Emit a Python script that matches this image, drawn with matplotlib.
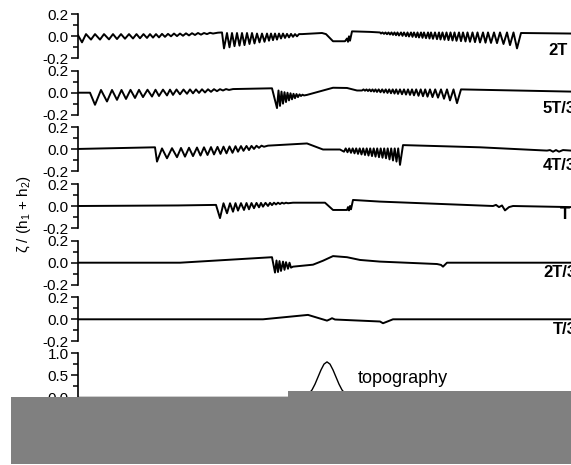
import matplotlib
matplotlib.use('Agg')
import matplotlib.pyplot as plt
from matplotlib.patches import Rectangle
from matplotlib.ticker import FixedLocator, FormatStrFormatter

plt.rcParams['font.family'] = ['Liberation Sans', 'DejaVu Sans']
plt.rcParams['mathtext.fontset'] = 'custom'
plt.rcParams['mathtext.rm'] = 'Liberation Sans'
plt.rcParams['mathtext.default'] = 'regular'
plt.rcParams['axes.unicode_minus'] = False

# interface displacement, distance along the channel (arbitrary units)
trace_2t = [
    (0, 0.01), (4, -0.055), (8, 0.02), (13, -0.03), (17, 0.02), (22, -0.03), (26, 0.02),
    (31, -0.028), (35, 0.02), (39, -0.025), (43, 0.02), (47, -0.022), (51, 0.02), (55, -0.02),
    (58.5, 0.02), (62, -0.018), (65.5, 0.02), (69, -0.015), (72, 0.02), (75, -0.012), (78, 0.02),
    (81, -0.01), (84, 0.022), (87, -0.005), (90, 0.022), (93, 0.0), (96, 0.025), (99, 0.002),
    (102, 0.025), (105, 0.005), (108, 0.027), (111, 0.008), (114, 0.028), (117, 0.012),
    (120, 0.03), (123, 0.015), (126, 0.03), (129, 0.02), (132, 0.032), (135, 0.025),
    (140, 0.033), (144, 0.035),
    (146, -0.11), (149, 0.03), (151.5, -0.1), (154, 0.03), (156.5, -0.09), (159, 0.03),
    (161.5, -0.085), (164, 0.03), (166.5, -0.08), (169, 0.03), (171.5, -0.07), (174, 0.03),
    (176.5, -0.065), (179, 0.025), (181.5, -0.055), (184, 0.025), (186.5, -0.05), (189, 0.025),
    (191, -0.04), (193, 0.025), (195, -0.035), (197, 0.025), (199, -0.03), (201, 0.025),
    (203, -0.02), (205, 0.025), (207, -0.015), (209, 0.022), (211, -0.01), (213, 0.022),
    (215, -0.005), (217, 0.02), (219, 0.0), (221, 0.02), (224, 0.02),
    (244, 0.03), (248, 0.02), (255, -0.045), (267, -0.045), (269, -0.02), (270, -0.05),
    (271, 0.0), (272, -0.04), (274, 0.045), (292, 0.04), (302, 0.035),
    (303, 0.025), (304.5, 0.035), (306, 0.022), (307.5, 0.035), (309, 0.019), (310.5, 0.035),
    (312, 0.016), (313.5, 0.035), (315, 0.013), (316.5, 0.035), (318, 0.01), (319.5, 0.035),
    (321, 0.007), (323, 0.035), (324.5, 0.004), (326, 0.035), (328, 0.001), (329.5, 0.035),
    (331, -0.002), (333, 0.035), (334.5, -0.005), (336, 0.035), (338, -0.008), (339.5, 0.035),
    (341, -0.011), (343, 0.035), (344.5, -0.014), (346, 0.035), (348, -0.017), (350, 0.035),
    (351.5, -0.02), (353, 0.035), (355, -0.023), (357, 0.035), (359, -0.026), (361, 0.035),
    (362.5, -0.029), (364.5, 0.035), (366.5, -0.032), (368.5, 0.035), (370.5, -0.035),
    (372.5, 0.035), (374.5, -0.038), (376.5, 0.035), (378.5, -0.041), (381, 0.035),
    (383, -0.044), (385, 0.035), (387.5, -0.047), (389.5, 0.035), (392, -0.05), (394.5, 0.035),
    (397, -0.053), (399.5, 0.035), (402, -0.056), (405, 0.035), (407.5, -0.058), (410, 0.035),
    (413, -0.06), (416, 0.035), (419, -0.062), (422, 0.035), (425.5, -0.07), (429, 0.035),
    (432, -0.08), (435.5, 0.035), (439, -0.11), (443, 0.03), (493, 0.025), (522, 0.025),
]

trace_5t3 = [
    (0, 0.0), (12, 0.0),
    (17, -0.11), (23, 0.025), (29, -0.08), (34, 0.025), (39, -0.065), (43.5, 0.025),
    (48, -0.057), (52.5, 0.026), (57, -0.048), (61, 0.026), (65, -0.04), (69.5, 0.027),
    (74, -0.035), (77.5, 0.027), (81, -0.03), (85, 0.028), (89, -0.025), (92, 0.028),
    (95, -0.02), (98.5, 0.029), (102, -0.015), (105.5, 0.029), (109, -0.01), (112, 0.03),
    (115, -0.006), (118, 0.03), (121, -0.002), (124, 0.031), (127, 0.002), (130, 0.031),
    (133, 0.008), (136, 0.032), (139, 0.014), (142, 0.032), (145, 0.02), (148, 0.033),
    (151, 0.025), (155, 0.033), (194, 0.04),
    (199, -0.14), (200.5, 0.02), (202, -0.12), (203.5, 0.01), (205, -0.1), (206.5, 0.005),
    (208, -0.085), (209.5, 0.0), (211, -0.07), (212.5, -0.005), (214, -0.06), (215.5, -0.01),
    (217, -0.05), (218.5, -0.012), (220, -0.04), (221.5, -0.015), (223, -0.03), (224.5, -0.018),
    (226, -0.025), (229, -0.02),
    (255, 0.045), (269, 0.043), (279, 0.02), (282, 0.02),
    (284, 0.02), (285.5, 0.03), (287, 0.018), (288.5, 0.03), (290, 0.015), (291.5, 0.03),
    (293, 0.012), (294.5, 0.03), (296, 0.01), (297.5, 0.03), (299, 0.007), (300.7, 0.03),
    (302.5, 0.004), (304.2, 0.03), (306, 0.001), (307.7, 0.03), (309.5, -0.002), (311.2, 0.03),
    (313, -0.005), (314.7, 0.03), (316.5, -0.008), (318.2, 0.03), (320, -0.011), (322, 0.03),
    (324, -0.014), (326, 0.03), (328, -0.017), (330, 0.03), (332, -0.02), (334, 0.03),
    (336, -0.024), (338.2, 0.03), (340.5, -0.028), (342.7, 0.03), (345, -0.032), (347.2, 0.03),
    (349.5, -0.036), (352, 0.03), (354.5, -0.04), (357.2, 0.03), (360, -0.045), (363, 0.03),
    (366, -0.055), (369, 0.03), (372, -0.07), (375.5, 0.03), (379, -0.095), (383, 0.03),
    (493, 0.01), (522, 0.008),
]

trace_4t3 = [
    (0, 0.005), (77, 0.02),
    (79, -0.11), (84, 0.01), (89, -0.08), (94, 0.012), (99, -0.07), (103, 0.014), (107, -0.065),
    (111, 0.016), (115, -0.06), (119, 0.018), (122.5, -0.055), (126, 0.02), (129.5, -0.05),
    (133, 0.022), (136, -0.045), (139.5, 0.024), (142.5, -0.04), (145.5, 0.026), (148.5, -0.035),
    (151.5, 0.028), (154.5, -0.03), (157.5, 0.03), (160, -0.02), (163, 0.031), (165.5, -0.012),
    (168.5, 0.032), (171, -0.005), (173.5, 0.033), (176, 0.005), (178.5, 0.034), (181, 0.015),
    (183.5, 0.035), (186, 0.025), (190, 0.035),
    (229, 0.055), (245, 0.0), (262, 0.0),
    (266, -0.02), (267.7, 0.01), (269.5, -0.025), (271.2, 0.01), (273, -0.03), (274.7, 0.01),
    (276.5, -0.035), (278.2, 0.01), (280, -0.04), (281.7, 0.01), (283.5, -0.045), (285.2, 0.01),
    (287, -0.05), (288.7, 0.01), (290.5, -0.055), (292.2, 0.01), (294, -0.06), (295.7, 0.01),
    (297.5, -0.065), (299.2, 0.01), (301, -0.07), (302.7, 0.01), (304.5, -0.075), (306.2, 0.01),
    (308, -0.08), (309.7, 0.01), (311.5, -0.09), (313.2, 0.01), (315, -0.1), (316.7, 0.01),
    (318.5, -0.11), (320.2, 0.01), (322, -0.14), (325, 0.04), (402, 0.02), (469, -0.01),
    (472, -0.005), (475, -0.02), (478, -0.005), (481, -0.02), (485, -0.005), (493, -0.01),
    (522, -0.01),
]

trace_t = [
    (0, 0.0), (100, 0.005), (138, 0.01),
    (142, -0.11), (145.5, 0.025), (149, -0.066), (152, 0.025), (155, -0.052), (157.5, 0.026),
    (160, -0.042), (163, 0.026), (166, -0.036), (168.5, 0.027), (171, -0.03), (173.5, 0.027),
    (176, -0.02), (178.5, 0.028), (181, -0.012), (183, 0.028), (185, -0.006), (187.5, 0.029),
    (190, 0.0), (192, 0.029), (194, 0.008), (196, 0.03), (198, 0.014), (200, 0.03),
    (202, 0.018), (204, 0.03), (206, 0.022), (208, 0.03), (210, 0.025), (215, 0.03),
    (247, 0.03), (255, -0.036), (269, -0.036), (270, -0.01), (271, -0.04), (272, 0.0),
    (273, -0.03), (275, 0.055), (302, 0.04), (415, 0.0), (418, 0.01), (421, -0.01),
    (424, 0.005), (427, -0.04), (431, -0.01), (435, 0.0), (493, -0.01), (522, -0.01),
]

trace_2t3 = [
    (0, 0.0), (102, 0.0), (194, 0.05),
    (197, -0.09), (198.5, 0.02), (200, -0.085), (201.5, 0.015), (203, -0.075), (205, 0.01),
    (206.5, -0.065), (208, 0.005), (210, -0.055), (211.5, 0.0), (213, -0.045), (215, -0.036),
    (235, -0.018), (245, 0.018), (255, 0.06), (269, 0.05), (282, 0.025), (302, 0.01),
    (359, -0.012), (363, -0.02), (365, -0.036), (369, 0.0), (522, 0.0),
]

trace_t3 = [
    (0, 0.0), (185, 0.0), (230, 0.04), (249, -0.012), (252, 0.0), (254, 0.01), (257, -0.002),
    (302, -0.02), (305, -0.036), (315, 0.0), (522, 0.0),
]

topography = [
    (0, 0.0), (219, 0.0), (227, 0.03), (231, 0.09), (234, 0.17), (237, 0.3), (240, 0.46),
    (243, 0.62), (246, 0.75), (249, 0.8), (252, 0.75), (255, 0.62), (258, 0.46), (261, 0.3),
    (264, 0.17), (267, 0.09), (271, 0.03), (279, 0.0), (522, 0.0),
]

traces = [trace_2t, trace_5t3, trace_4t3, trace_t, trace_2t3, trace_t3]
time_labels = ['2T', '5T/3', '4T/3', 'T', '2T/3', 'T/3']
label_pos = [(470, -0.125), (465, -0.14), (465, -0.15), (482, -0.08), (465, -0.085), (475, -0.097)]

W, H = 571, 465
fig = plt.figure(figsize=(W / 100, H / 100), dpi=100)

# zero level of each panel in pixels from the top
zero_px = [36.3, 92.7, 149.5, 206.0, 262.7, 319.3]
left = 78 / W
width = 520 / W


def style_axis(ax, major, minor, fmt):
    for side in ['top', 'right', 'bottom']:
        ax.spines[side].set_visible(False)
    ax.spines['left'].set_linewidth(1.2)
    ax.set_xticks([])
    ax.yaxis.set_major_locator(FixedLocator(major))
    ax.yaxis.set_minor_locator(FixedLocator(minor))
    ax.yaxis.set_major_formatter(FormatStrFormatter(fmt))
    ax.tick_params(axis='y', which='major', length=5, width=1.1, pad=1.5, labelsize=11, color='black')
    ax.tick_params(axis='y', which='minor', length=3.5, width=1.1)
    ax.patch.set_alpha(0)


for i, tr in enumerate(traces):
    y0 = zero_px[i]
    ax = fig.add_axes([left, (H - y0 - 22) / H, width, 44 / H])
    xs, ys = zip(*tr)
    ax.plot(xs, ys, color='black', lw=1.4)
    ax.set_xlim(0, 520)
    ax.set_ylim(-0.2, 0.2)
    style_axis(ax, [-0.2, 0.0, 0.2], [-0.1, 0.1], '%.1f')
    lx, ly = label_pos[i]
    ax.text(lx, ly, time_labels[i], fontsize=12, fontweight='bold', va='center', ha='left')

axt = fig.add_axes([left, (H - 397.5) / H, width, 44.5 / H])
xs, ys = zip(*topography)
axt.plot(xs, ys, color='black', lw=1.0)
axt.set_xlim(0, 520)
axt.set_ylim(0, 1.0)
style_axis(axt, [0.0, 0.5, 1.0], [0.25, 0.75], '%.1f')
axt.text(280, 0.42, 'topography', fontsize=13, va='center', ha='left')

fig.text(24 / W, (H - 214) / H, 'ζ / (h$_1$ + h$_2$)', rotation=90, ha='center', va='center', fontsize=11)

# grey boxes covering the bottom of the figure
fig.add_artist(Rectangle((11 / W, 1 / H), (W - 11) / W, 67 / H, transform=fig.transFigure,
                         facecolor='#808080', edgecolor='none', zorder=10))
fig.add_artist(Rectangle((288 / W, 1 / H), (W - 288) / W, 73 / H, transform=fig.transFigure,
                         facecolor='#808080', edgecolor='none', zorder=10))

fig.savefig('out.png', dpi=100)
